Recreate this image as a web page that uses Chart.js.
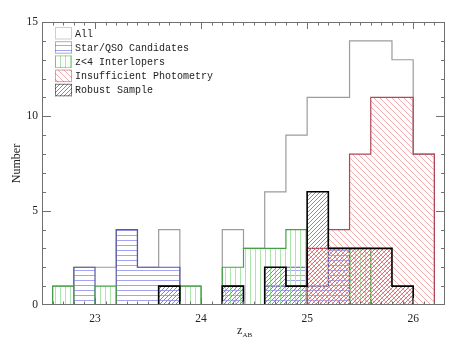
<!DOCTYPE html>
<html>
<head>
<meta charset="utf-8">
<script src="https://cdn.jsdelivr.net/npm/chart.js@4.4.0/dist/chart.umd.min.js"></script>
<style>
  body { margin: 0; background: #fff; }
  #wrap { width: 463px; height: 344px; }
</style>
</head>
<body>
<div id="wrap"><canvas id="histChart" width="463" height="344"></canvas></div>
<script>
// 0.2 mag bins in z_AB (edges), counts per bin
const binEdges = [22.6, 22.8, 23.0, 23.2, 23.4, 23.6, 23.8, 24.0, 24.2, 24.4, 24.6, 24.8, 25.0, 25.2, 25.4, 25.6, 25.8, 26.0, 26.2];
const allCounts = [1, 2, 2, 4, 2, 4, 1, 0, 4, 3, 6, 9, 11, 11, 14, 14, 13, 8];
const starQsoCounts = [0, 2, 0, 4, 2, 2, 0, 0, 1, 0, 1, 2, 1, 3, 0, 0, 0, 0];
const interloperCounts = [1, 0, 1, 0, 0, 0, 1, 0, 2, 3, 3, 4, 0, 0, 3, 0, 0, 0];
const insufficientCounts = [0, 0, 0, 0, 0, 0, 0, 0, 0, 0, 0, 0, 3, 4, 8, 11, 11, 8];
const robustCounts = [0, 0, 0, 0, 0, 1, 0, 0, 1, 0, 2, 1, 6, 3, 3, 3, 1, 0];
const xTickValues = [23, 24, 25, 26];
const yTickValues = [0, 5, 10, 15];

const canvas = document.getElementById('histChart');
const ctx = canvas.getContext('2d');

// hatch fills like the IDL polyfill patterns
const makeHatch = (kind, step, color) => {
    const c = document.createElement('canvas');
    c.width = step;
    c.height = step;
    const g = c.getContext('2d');
    g.strokeStyle = color;
    g.lineWidth = 1;
    g.beginPath();
    if (kind === 'h') {
        g.moveTo(0, 0.5);
        g.lineTo(step, 0.5);
    } else if (kind === 'v') {
        g.moveTo(0.5, 0);
        g.lineTo(0.5, step);
    } else if (kind === 'back') {
        g.moveTo(-1, -1);
        g.lineTo(step + 1, step + 1);
        g.moveTo(-1, step - 1);
        g.lineTo(1, step + 1);
        g.moveTo(step - 1, -1);
        g.lineTo(step + 1, 1);
    } else {
        g.moveTo(-1, step + 1);
        g.lineTo(step + 1, -1);
        g.moveTo(-1, 1);
        g.lineTo(1, -1);
        g.moveTo(step - 1, step + 1);
        g.lineTo(step + 1, step - 1);
    }
    g.stroke();
    return ctx.createPattern(c, 'repeat');
};

// step outline of a histogram: each run of non-empty bins is its own closed shape
const histPoints = (counts) => {
    const pts = [];
    counts.forEach((v, i) => {
        if (!v) return;
        if (i === 0 || !counts[i - 1]) {
            if (pts.length) pts.push({ x: binEdges[i], y: null });
            pts.push({ x: binEdges[i], y: 0 });
        }
        pts.push({ x: binEdges[i], y: v });
        if (i === counts.length - 1 || !counts[i + 1]) pts.push({ x: binEdges[i + 1], y: 0 });
    });
    return pts;
};

const stepShape = { stepped: 'before', fill: 'origin', pointRadius: 0, spanGaps: false, borderJoinStyle: 'miter' };

const serif = '"Liberation Serif", "DejaVu Serif", serif';

// frame with inward ticks on all four sides, plus axis titles
const framePlugin = {
    id: 'frame',
    afterDatasetsDraw(chart) {
        const { ctx, chartArea: a, scales: { x, y } } = chart;
        ctx.save();
        ctx.strokeStyle = '#707070';
        ctx.lineWidth = 1;
        ctx.strokeRect(a.left + 0.5, a.top + 0.5, a.right - a.left - 1, a.bottom - a.top - 1);
        ctx.beginPath();
        for (let k = 226; k <= 262; k++) {
            const px = Math.round(x.getPixelForValue(k / 10)) + 0.5;
            const len = k % 10 === 0 ? 7 : 3.5;
            ctx.moveTo(px, a.bottom);
            ctx.lineTo(px, a.bottom - len);
            ctx.moveTo(px, a.top);
            ctx.lineTo(px, a.top + len);
        }
        for (let v = 1; v < 15; v++) {
            const py = Math.round(y.getPixelForValue(v)) + 0.5;
            const len = v % 5 === 0 ? 9 : 4;
            ctx.moveTo(a.left, py);
            ctx.lineTo(a.left + len, py);
            ctx.moveTo(a.right, py);
            ctx.lineTo(a.right - len, py);
        }
        ctx.stroke();

        ctx.fillStyle = '#222';
        ctx.font = '12px ' + serif;
        ctx.textAlign = 'center';
        ctx.textBaseline = 'middle';
        ctx.save();
        ctx.translate(16.5, (a.top + a.bottom) / 2);
        ctx.rotate(-Math.PI / 2);
        ctx.fillText('Number', 0, 0);
        ctx.restore();

        ctx.textBaseline = 'alphabetic';
        ctx.textAlign = 'left';
        ctx.font = '12px ' + serif;
        ctx.fillText('z', 237, 334);
        ctx.font = '7px ' + serif;
        ctx.fillText('AB', 242.5, 336.5);
        ctx.restore();
    },
};

// boxed legend in the upper left corner of the plot
const legendPlugin = {
    id: 'boxLegend',
    afterDraw(chart) {
        const { ctx, chartArea: a } = chart;
        ctx.save();
        ctx.font = '10px "Liberation Mono", monospace';
        ctx.textBaseline = 'middle';
        chart.data.datasets.forEach((ds, i) => {
            const left = a.left + 13;
            const top = a.top + 5 + i * 14.2;
            ctx.fillStyle = ds.backgroundColor;
            ctx.fillRect(left, top, 17, 12.5);
            ctx.globalAlpha = 0.5;
            ctx.strokeStyle = ds.borderColor;
            ctx.lineWidth = 1;
            ctx.strokeRect(left + 0.5, top + 0.5, 16, 11.5);
            ctx.globalAlpha = 1;
            ctx.fillStyle = '#222';
            ctx.fillText(ds.label, left + 20, top + 7);
        });
        ctx.restore();
    },
};

new Chart(canvas, {
    type: 'line',
    data: {
        datasets: [
            {
                label: 'All',
                data: histPoints(allCounts),
                backgroundColor: 'rgba(255,255,255,0)',
                borderColor: '#9c9c9c',
                borderWidth: 1.2,
                order: 4,
                ...stepShape,
            },
            {
                label: 'Star/QSO Candidates',
                data: histPoints(starQsoCounts),
                backgroundColor: makeHatch('h', 5, '#a4a4f0'),
                borderColor: '#5a5aa4',
                borderWidth: 1.2,
                order: 3,
                ...stepShape,
            },
            {
                label: 'z<4 Interlopers',
                data: histPoints(interloperCounts),
                backgroundColor: makeHatch('v', 5, '#abe6ab'),
                borderColor: '#45a045',
                borderWidth: 1.2,
                order: 2,
                ...stepShape,
            },
            {
                label: 'Insufficient Photometry',
                data: histPoints(insufficientCounts),
                backgroundColor: makeHatch('back', 6, '#f4adad'),
                borderColor: '#ad4858',
                borderWidth: 1.2,
                order: 1,
                ...stepShape,
            },
            {
                label: 'Robust Sample',
                data: histPoints(robustCounts),
                backgroundColor: makeHatch('fwd', 4, '#8e8e8e'),
                borderColor: '#000000',
                borderWidth: 1.6,
                order: 0,
                ...stepShape,
            },
        ],
    },
    options: {
        responsive: false,
        animation: false,
        layout: { padding: { top: 22, right: 18, left: 0, bottom: 0 } },
        plugins: {
            legend: { display: false },
            tooltip: { enabled: false },
        },
        scales: {
            x: {
                type: 'linear',
                min: 22.5,
                max: 26.3,
                afterBuildTicks: (s) => {
                    s.ticks = xTickValues.map((v) => ({ value: v }));
                },
                afterFit: (s) => {
                    s.height = 39;
                },
                grid: { display: false, drawTicks: false },
                border: { display: false },
                ticks: { padding: 7, color: '#222', font: { family: serif, size: 11.5 }, maxRotation: 0 },
            },
            y: {
                min: 0,
                max: 15,
                afterBuildTicks: (s) => {
                    s.ticks = yTickValues.map((v) => ({ value: v }));
                },
                afterFit: (s) => {
                    s.width = 42;
                },
                grid: { display: false, drawTicks: false },
                border: { display: false },
                ticks: { padding: 4, color: '#222', font: { family: serif, size: 11.5 } },
            },
        },
    },
    plugins: [framePlugin, legendPlugin],
});
</script>
</body>
</html>
